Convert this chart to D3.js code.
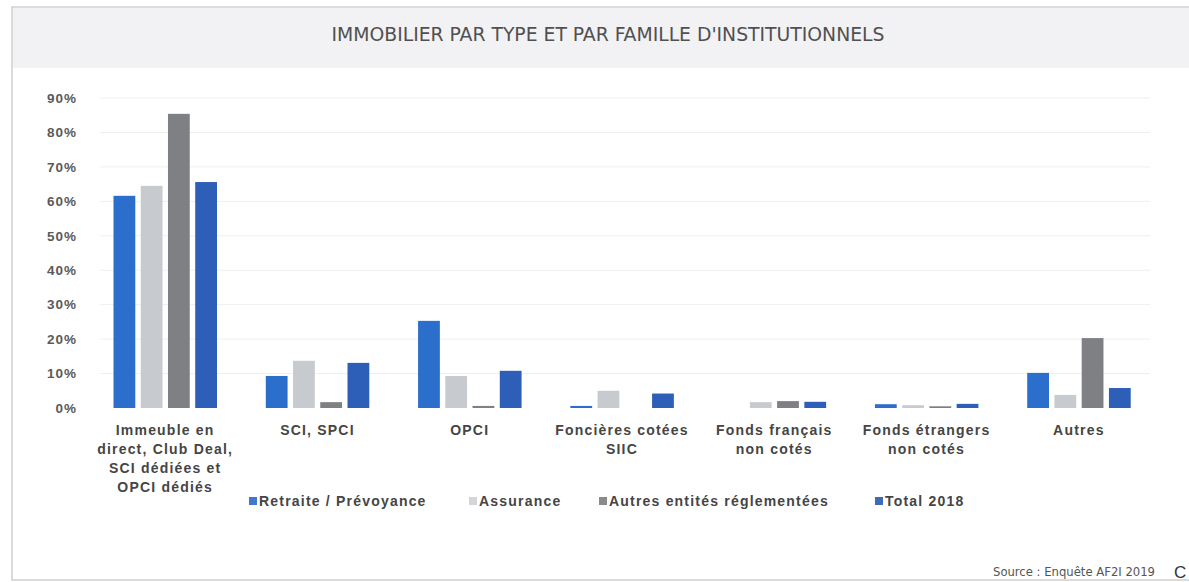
<!DOCTYPE html>
<html>
<head>
<meta charset="utf-8">
<script src="https://cdn.jsdelivr.net/npm/d3@7"></script>
<style>
  html, body { margin: 0; padding: 0; background: #fff; }
  svg { display: block; }
</style>
</head>
<body>
<svg id="chart" width="1189" height="582"></svg>
<script>
// Categories (x axis), one label line per array entry
const categories = [
  ["Immeuble en", "direct, Club Deal,", "SCI dédiées et", "OPCI dédiés"],
  ["SCI, SPCI"],
  ["OPCI"],
  ["Foncières cotées", "SIIC"],
  ["Fonds français", "non cotés"],
  ["Fonds étrangers", "non cotés"],
  ["Autres"]
];
const seriesNames = ["Retraite / Prévoyance", "Assurance", "Autres entités réglementées", "Total 2018"];

// Shares in % per category
const retraite  = [61.6, 9.3, 25.3, 0.6, 0.0, 1.1, 10.2];
const assurance = [64.5, 13.7, 9.3, 5.0, 1.7, 0.8, 3.8];
const autres    = [85.4, 1.7, 0.6, 0.0, 2.0, 0.5, 20.3];
const total     = [65.6, 13.1, 10.8, 4.2, 1.8, 1.2, 5.8];

const yTicks = [0, 10, 20, 30, 40, 50, 60, 70, 80, 90];

const seriesValues = [retraite, assurance, autres, total];
const colors = ["#2c6ecb", "#c7cacf", "#7f8083", "#2e5fb8"];
const legendColors = ["#3f78cc", "#d3d5d9", "#8a8a8a", "#4068bb"];

const svg = d3.select("#chart");

// Frame and title band
svg.append("rect").attr("x", 12).attr("y", 7).attr("width", 1200).attr("height", 573)
  .attr("fill", "#fff").attr("stroke", "#cfcfcf").attr("stroke-width", 1.5);
svg.append("rect").attr("x", 13).attr("y", 8).attr("width", 1200).attr("height", 60)
  .attr("fill", "#f2f2f4");

svg.append("text")
  .attr("x", 608).attr("y", 41)
  .attr("text-anchor", "middle")
  .attr("font-family", "'DejaVu Sans Condensed', 'DejaVu Sans', sans-serif")
  .attr("font-size", 19)
  .attr("fill", "#505050")
  .attr("textLength", 553)
  .attr("lengthAdjust", "spacingAndGlyphs")
  .text("IMMOBILIER PAR TYPE ET PAR FAMILLE D'INSTITUTIONNELS");

// Scales
const catIdx = d3.range(categories.length);
const x0 = d3.scaleBand().domain(catIdx).range([89, 1155]).paddingInner(0).paddingOuter(0);
const x1 = d3.scaleBand().domain(d3.range(seriesNames.length))
  .range([24.5, 128]).paddingInner(0.2).paddingOuter(0);
const y = d3.scaleLinear().domain([0, 90]).range([408, 98]);

// Gridlines
svg.append("g")
  .selectAll("line")
  .data(yTicks.filter(t => t > 0))
  .join("line")
  .attr("x1", 100).attr("x2", 1150)
  .attr("y1", d => y(d)).attr("y2", d => y(d))
  .attr("stroke", "#efefef").attr("stroke-width", 1);

// Y axis labels
const yAxis = d3.axisLeft(y).tickValues(yTicks).tickFormat(d => d + "%").tickSize(0).tickPadding(0);
const yg = svg.append("g").attr("transform", "translate(77,0)").call(yAxis);
yg.select(".domain").remove();
yg.selectAll("text")
  .attr("font-family", "'Liberation Sans', Arial, sans-serif")
  .attr("font-weight", "bold")
  .attr("font-size", 13.5)
  .attr("letter-spacing", "1px")
  .attr("fill", "#5a5a5a");

// Bars
const groups = svg.append("g").selectAll("g")
  .data(catIdx)
  .join("g")
  .attr("transform", i => `translate(${x0(i)},0)`);

groups.selectAll("rect")
  .data(i => seriesValues.map((vals, s) => ({ s, v: vals[i] })))
  .join("rect")
  .attr("x", d => x1(d.s))
  .attr("width", x1.bandwidth())
  .attr("y", d => y(d.v))
  .attr("height", d => y(0) - y(d.v))
  .attr("fill", d => colors[d.s]);

// Category labels
const labelG = svg.append("g");
categories.forEach((lines, i) => {
  const t = labelG.append("text")
    .attr("text-anchor", "middle")
    .attr("font-family", "'Liberation Sans', Arial, sans-serif")
    .attr("font-weight", "bold")
    .attr("font-size", 14)
    .attr("letter-spacing", "1.2px")
    .attr("fill", "#454545");
  lines.forEach((ln, k) => {
    t.append("tspan")
      .attr("x", x0(i) + x0.bandwidth() / 2)
      .attr("y", 435 + k * 19)
      .text(ln);
  });
});

// Legend
const legendX = [249, 469, 599, 875];
const leg = svg.append("g");
seriesNames.forEach((name, s) => {
  leg.append("rect")
    .attr("x", legendX[s]).attr("y", 497)
    .attr("width", 8).attr("height", 8)
    .attr("fill", legendColors[s]);
  leg.append("text")
    .attr("x", legendX[s] + 10).attr("y", 506)
    .attr("font-family", "'Liberation Sans', Arial, sans-serif")
    .attr("font-weight", "bold")
    .attr("font-size", 14)
    .attr("letter-spacing", "1.2px")
    .attr("fill", "#454545")
    .text(name);
});

// Source line
svg.append("text")
  .attr("x", 993).attr("y", 576)
  .attr("font-family", "'DejaVu Sans Condensed', 'DejaVu Sans', sans-serif")
  .attr("font-size", 12)
  .attr("fill", "#555")
  .attr("textLength", 162)
  .attr("lengthAdjust", "spacingAndGlyphs")
  .text("Source : Enquête AF2I 2019");
svg.append("text")
  .attr("x", 1174).attr("y", 578)
  .attr("font-family", "'Liberation Sans', Arial, sans-serif")
  .attr("font-size", 17)
  .attr("fill", "#333")
  .text("C");
</script>
</body>
</html>
